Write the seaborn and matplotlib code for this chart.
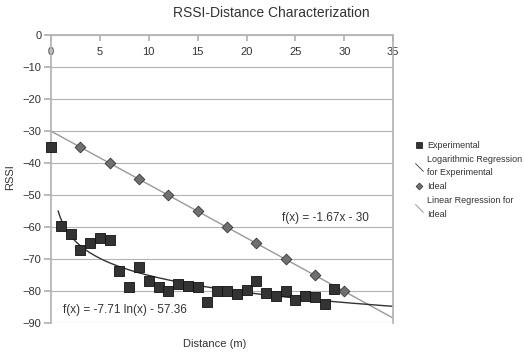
import numpy as np
import pandas as pd
import matplotlib
matplotlib.use("Agg")
import matplotlib.pyplot as plt
from matplotlib.lines import Line2D
import seaborn as sns

sns.set_theme(style="white")
plt.rcParams['font.family'] = ['Liberation Sans', 'DejaVu Sans']

# experimental readings
exp_dist = [0, 1, 2, 3, 4, 5, 6, 7, 8, 9, 10, 11, 12, 13, 14, 15, 16, 17, 18, 19,
            20, 21, 22, 23, 24, 25, 26, 27, 28, 29]
exp_rssi = [-35, -59.7, -62.2, -67.2, -64.9, -63.5, -64, -73.7, -78.6, -72.5,
            -77, -78.6, -80, -77.9, -78.3, -78.8, -83.5, -80, -80, -81,
            -79.7, -76.8, -80.7, -81.4, -80, -82.8, -81.4, -81.9, -84, -79.5]

# ideal curve points
ideal_dist = [3, 6, 9, 12, 15, 18, 21, 24, 27, 30]
ideal_rssi = [-35, -40, -45, -50, -55, -60, -65, -70, -75, -80]

# trend line coefficients (from chart labels)
log_a, log_b = -7.71, -57.36
lin_m, lin_c = -1.67, -30

xticks = [0, 5, 10, 15, 20, 25, 30, 35]
yticks = [0, -10, -20, -30, -40, -50, -60, -70, -80, -90]

GRID = '#b3b3b3'
TXT = '#333333'

fig = plt.figure(figsize=(5.24, 3.55), dpi=100)
ax = fig.add_axes([0.0973, 0.090, 0.653, 0.811])

xs_log = np.linspace(0.73, 35, 200)
log_df = pd.DataFrame({'x': xs_log, 'y': log_a * np.log(xs_log) + log_b})
xs_lin = np.array([0, 35])
lin_df = pd.DataFrame({'x': xs_lin, 'y': lin_m * xs_lin + lin_c})

sns.lineplot(data=lin_df, x='x', y='y', ax=ax, color='#999999', lw=1.0, zorder=2)
sns.lineplot(data=log_df, x='x', y='y', ax=ax, color='#333333', lw=1.0, zorder=2)
sns.scatterplot(x=exp_dist, y=exp_rssi, ax=ax, marker='s', s=55, color='#333333',
                edgecolor='#111111', linewidth=0.6, zorder=3, clip_on=False)
sns.scatterplot(x=ideal_dist, y=ideal_rssi, ax=ax, marker='D', s=30, color='#707070',
                edgecolor='#333333', linewidth=0.6, zorder=3, clip_on=False)

ax.set_xlim(0, 35)
ax.set_ylim(-90, 0)
ax.set_xticks(xticks)
ax.set_yticks(yticks)
ax.yaxis.grid(True, color=GRID, lw=0.8)
ax.xaxis.grid(False)
ax.spines['bottom'].set_visible(False)
for s in ['left', 'top', 'right']:
    ax.spines[s].set_color(GRID)
ax.tick_params(axis='x', top=True, bottom=False, labeltop=True, labelbottom=False,
               direction='in', pad=-16, length=4, color=GRID, labelsize=8,
               labelcolor=TXT)
ax.tick_params(axis='y', left=True, direction='out', length=5, color=GRID,
               labelsize=8, labelcolor=TXT, pad=2)

ax.set_xlabel('')
ax.set_ylabel('')
fig.text(0.41, 0.03, 'Distance (m)', ha='center', va='center', fontsize=8, color=TXT)
fig.text(0.02, 0.5, 'RSSI', ha='center', va='center', rotation=90, fontsize=8, color=TXT)
fig.text(0.517, 0.963, 'RSSI-Distance Characterization', ha='center', va='center',
         fontsize=10, color=TXT)

ax.text(23.6, -57.3, 'f(x) = -1.67x - 30', fontsize=8.5, color=TXT, va='center')
ax.text(1.2, -86, 'f(x) = -7.71 ln(x) - 57.36', fontsize=8.5, color=TXT, va='center')

diag = [(-1, 1), (1, -1)]
handles = [
    Line2D([], [], ls='none', marker='s', ms=4.5, mfc='#333333', mec='#111111', mew=0.5),
    Line2D([], [], ls='none', marker=diag, ms=6, mec='#555555', mew=0.7),
    Line2D([], [], ls='none', marker='D', ms=3.5, mfc='#707070', mec='#333333', mew=0.5),
    Line2D([], [], ls='none', marker=diag, ms=6, mec='#999999', mew=0.7),
]
labels = ['Experimental', 'Logarithmic Regression\nfor Experimental', 'Ideal',
          'Linear Regression for\nIdeal']
leg = ax.legend(handles, labels, loc='upper left', bbox_to_anchor=(0.793, 0.603),
                bbox_transform=fig.transFigure, frameon=False, fontsize=6.5,
                handlelength=0.8, handletextpad=0.5, labelspacing=0.55,
                borderaxespad=0, borderpad=0)
for t in leg.get_texts():
    t.set_linespacing(1.65)
    t.set_color(TXT)

fig.savefig('out.png', dpi=100)
